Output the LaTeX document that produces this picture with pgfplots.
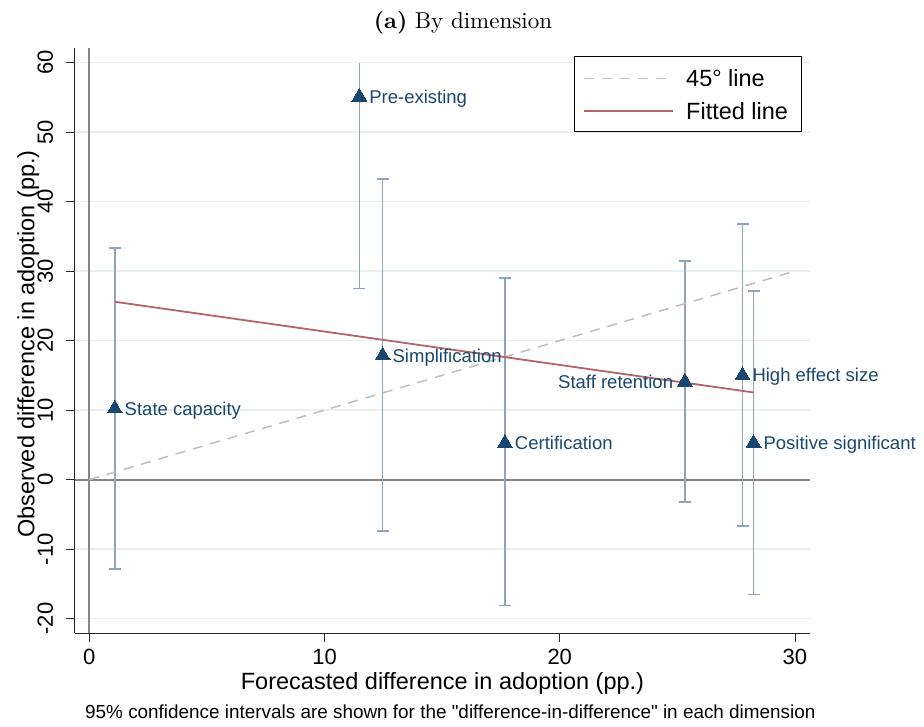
\documentclass[border=0pt]{standalone}
\usepackage{fontspec}
\usepackage{pgfplots}
\pgfplotsset{compat=1.18}
\newfontfamily\arial{Liberation Sans}
\definecolor{navy}{HTML}{1A476F}
\definecolor{cicol}{HTML}{8EA4BD}
\definecolor{fitcol}{HTML}{B3646B}
\definecolor{gridcol}{HTML}{E8EFF1}
\definecolor{zerocol}{HTML}{858585}
\definecolor{dashcol}{HTML}{BEBEBE}

% confidence-interval segments (nan rows separate the dimensions)
\pgfplotstableread{
x      y
1.08   -12.90
1.08   33.28
nan    nan
11.48  27.50
11.48  60.00
nan    nan
12.47  -7.38
12.47  43.25
nan    nan
17.67  -18.13
17.67  28.96
nan    nan
25.32  -3.25
25.32  31.45
nan    nan
27.77  -6.66
27.77  36.80
nan    nan
28.24  -16.55
28.24  27.17
}\cisegs

% caps of the intervals
\pgfplotstableread{
x      y
1.08   -12.90
1.08   33.28
11.48  27.50
12.47  -7.38
12.47  43.25
17.67  -18.13
17.67  28.96
25.32  -3.25
25.32  31.45
27.77  -6.66
27.77  36.80
28.24  -16.55
28.24  27.17
}\cicaps

\begin{document}
\begin{tikzpicture}
\useasboundingbox (-75pt,-93pt) rectangle (849pt,633pt);
\begin{axis}[
  at={(0pt,0pt)}, anchor=south west,
  scale only axis, width=735pt, height=585pt,
  xmin=-0.61, xmax=30.64, ymin=-22.07, ymax=62.1,
  clip=false,
  axis x line*=bottom, axis y line*=left,
  axis line style={black!85, line width=1pt, -},
  xtick={0,10,20,30}, ytick={-20,-10,...,60},
  tick align=outside, major tick length=9pt,
  tick style={black!85, line width=0.8pt},
  ymajorgrids, grid style={gridcol, line width=1.3pt},
  /pgf/number format/assume math mode=true,
  ticklabel style={font=\arial\fontsize{22}{26}\selectfont},
  yticklabel style={rotate=90, anchor=south, inner sep=0pt, yshift=12.7pt},
  xticklabel style={anchor=north, inner sep=0pt, yshift=-7.3pt},
  xlabel={Forecasted difference in adoption (pp.)},
  ylabel={Observed difference in adoption (pp.)},
  label style={font=\arial\fontsize{23.5}{28}\selectfont},
  xlabel style={at={(axis description cs:0.5,0)}, anchor=base, inner sep=0pt, yshift=-56.9pt},
  ylabel style={at={(axis description cs:0,0.494)}, anchor=base, inner sep=0pt, yshift=40.5pt},
]
% zero reference lines
\addplot[forget plot, zerocol, line width=1.8pt] coordinates {(-0.61,0) (30.64,0)};
\addplot[forget plot, zerocol, line width=1.8pt] coordinates {(0,-22.07) (0,62.1)};
% confidence intervals
\addplot[forget plot, cicol, line width=1.7pt, mark=none, unbounded coords=jump] table {\cisegs};
\addplot[forget plot, cicol, only marks, mark=-, mark size=6pt, mark options={line width=1.7pt}] table {\cicaps};
% 45 degree line
\addplot[forget plot, dashcol, line width=1.5pt, dash pattern=on 10pt off 8pt] coordinates {(0,0) (29.8,29.8)};
% fitted line
\addplot[forget plot, fitcol, line width=1.8pt] coordinates {(1.08,25.59) (28.24,12.54)};
% points with labels to the right
\addplot[forget plot, only marks, mark=triangle*, mark size=8.6pt,
  mark options={fill=navy, draw=navy, line width=0pt, yshift=-2.2pt},
  point meta=explicit symbolic,
  nodes near coords,
  nodes near coords style={anchor=base west, inner sep=0pt, xshift=10pt, yshift=-6.6pt,
    font=\arial\fontsize{18.5}{22}\selectfont, text=navy}]
  coordinates {
    (1.08,10.53) [State capacity]
    (11.48,55.4) [Pre-existing]
    (12.47,18.16) [Simplification]
    (17.67,5.56) [Certification]
    (27.77,15.32) [High effect size]
    (28.24,5.56) [Positive significant]
  };
% point with label to the left
\addplot[forget plot, only marks, mark=triangle*, mark size=8.6pt,
  mark options={fill=navy, draw=navy, line width=0pt, yshift=-2.2pt},
  point meta=explicit symbolic,
  nodes near coords,
  nodes near coords style={anchor=base east, inner sep=0pt, xshift=-11.8pt, yshift=-6.6pt,
    font=\arial\fontsize{18.5}{22}\selectfont, text=navy}]
  coordinates {
    (25.32,14.38) [Staff retention]
  };
\end{axis}
% legend
\draw[black, line width=1pt, fill=white] (499pt,501pt) rectangle (726pt,576pt);
\draw[dashcol, line width=1.5pt, dash pattern=on 10pt off 8pt] (509pt,554.7pt) -- (598pt,554.7pt);
\node[anchor=base west, inner sep=0pt, font=\arial\fontsize{23.5}{28}\selectfont] at (611pt,546.3pt) {45° line};
\draw[fitcol, line width=1.8pt] (509pt,522pt) -- (598pt,522pt);
\node[anchor=base west, inner sep=0pt, font=\arial\fontsize{23.5}{28}\selectfont] at (611pt,513.6pt) {Fitted line};
% title and note
\node[anchor=base, inner sep=0pt, scale=2.3] at (388pt,604.6pt) {\textbf{(a)} By dimension};
\node[anchor=base west, inner sep=0pt, font=\arial\fontsize{18.9}{22}\selectfont]
  at (10pt,-85.3pt) {95\% confidence intervals are shown for the "difference-in-difference" in each dimension};
\end{tikzpicture}
\end{document}
